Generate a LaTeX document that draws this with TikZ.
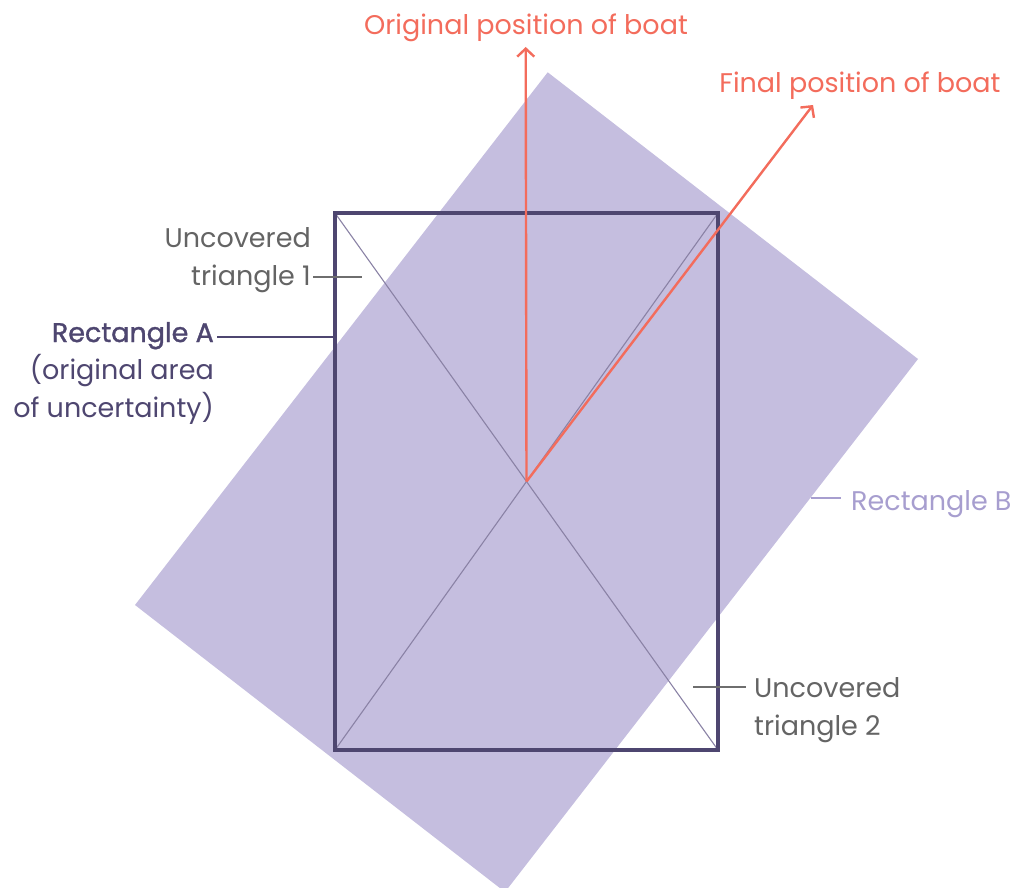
\documentclass[tikz,border=0pt]{standalone}
\usepackage{fontspec}
\setmainfont{Poppins}
\newfontfamily\medfont{Poppins}[FakeBold=1.3]
\usetikzlibrary{arrows.meta}
\definecolor{boatc}{RGB}{243,108,92}
\definecolor{rectbfill}{RGB}{197,190,223}
\definecolor{rectastroke}{RGB}{78,70,112}
\definecolor{diagc}{RGB}{138,130,165}
\definecolor{labelb}{RGB}{167,158,207}
\definecolor{graytext}{RGB}{100,100,100}
\definecolor{grayline}{RGB}{110,110,110}
\tikzset{
  lbl/.style={inner sep=0pt, font=\fontsize{27}{37.5}\selectfont},
  boatarrow/.style={draw=boatc, line width=2.4pt, -{Straight Barb[length=8pt,width=17pt,line width=2.4pt]}},
  diagline/.style={draw=diagc, line width=1.1pt},
  leader/.style={draw=grayline, line width=1.5pt},
}
\begin{document}
\begin{tikzpicture}[x=1pt,y=-1pt]
\useasboundingbox (0,0) rectangle (1012,888);
\clip (0,0) rectangle (1012,888);
% Rectangle B
\coordinate (Bt) at (547.7,72.3);
\coordinate (Br) at (918,359);
\coordinate (Bb) at (505,892);
\coordinate (Bl) at (135,605);
\fill[rectbfill] (Bt) -- (Br) -- (Bb) -- (Bl) -- cycle;
% Rectangle A
\coordinate (Atl) at (335,213);
\coordinate (Atr) at (718,213);
\coordinate (Abr) at (718,750);
\coordinate (Abl) at (335,750);
\coordinate (C) at (526.5,481.5);
\draw[diagline] (Atl) -- (Abr);
\draw[diagline] (Atr) -- (Abl);
\draw[draw=rectastroke, line width=4pt] (Atl) rectangle (Abr);
% boat arrows
\coordinate (orig) at (525.7,47);
\coordinate (fin) at (813,105);
\draw[boatarrow] (C) -- (orig);
\draw[boatarrow] (C) -- (fin);
% labels
\node[lbl, text=boatc, anchor=base] (origlbl) at (526,35) {Original position of boat};
\node[lbl, text=boatc, anchor=base] (finlbl) at (860,93) {Final position of boat};
\node[lbl, text=graytext, align=right, anchor=base east] (t1) at (311,285) {Uncovered\\triangle 1};
\coordinate (t1a) at (313,277);
\coordinate (t1b) at (362,277);
\draw[leader] (t1a) -- (t1b);
\node[lbl, text=rectastroke, align=right, anchor=base east] (ra) at (214,417) {{\medfont Rectangle A}\\(original area\\of uncertainty)};
\coordinate (raa) at (217,337);
\coordinate (rab) at (335,337);
\draw[draw=rectastroke, line width=1.5pt] (raa) -- (rab);
\node[lbl, text=labelb, anchor=base west] (rb) at (851,510) {Rectangle B};
\coordinate (rba) at (811,498);
\coordinate (rbb) at (841,498);
\draw[draw=labelb, line width=1.5pt] (rba) -- (rbb);
\node[lbl, text=graytext, align=left, anchor=base west] (t2) at (754,735) {Uncovered\\triangle 2};
\coordinate (t2a) at (693,687);
\coordinate (t2b) at (746,687);
\draw[leader] (t2a) -- (t2b);
\end{tikzpicture}
\end{document}
